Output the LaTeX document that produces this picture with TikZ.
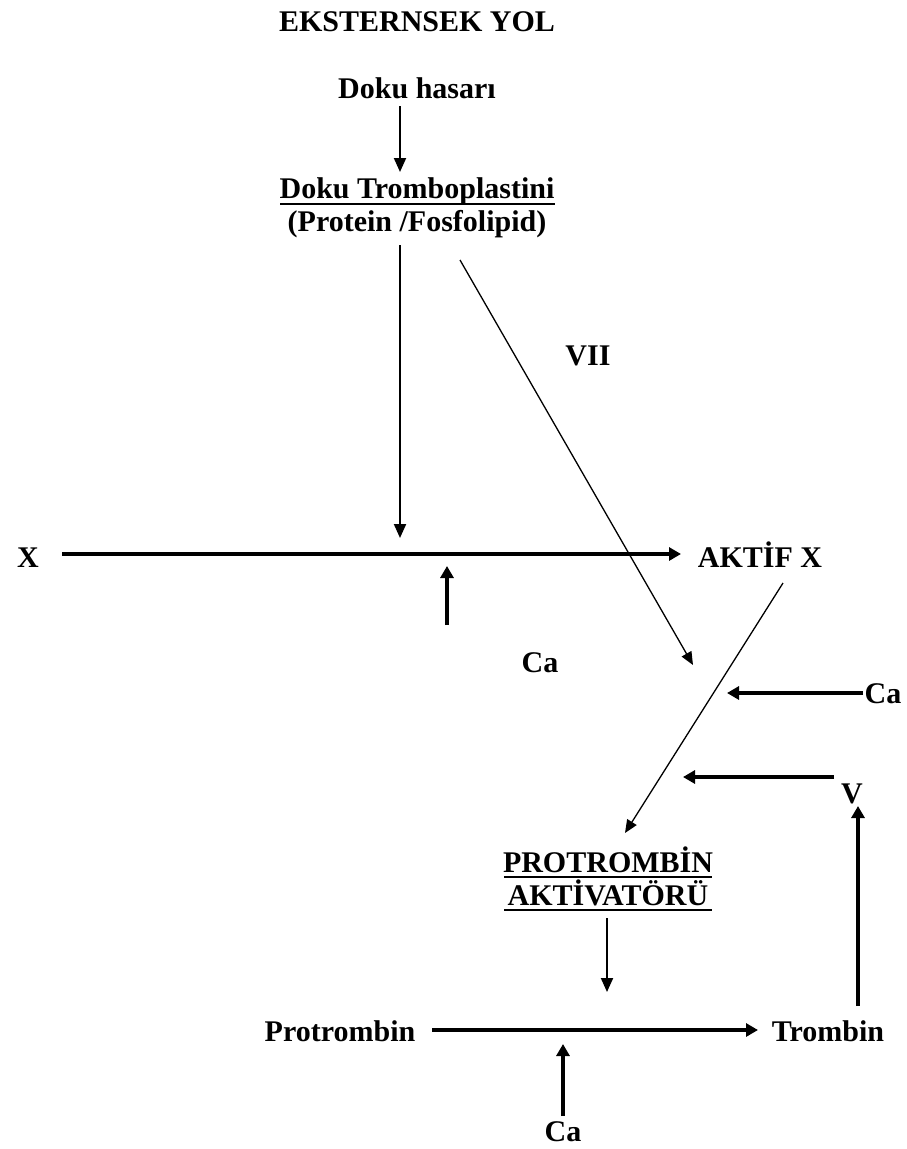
\documentclass[tikz,border=0pt]{standalone}
\usepackage{fontspec}
\setmainfont{Liberation Serif}
\usetikzlibrary{arrows.meta}
\begin{document}
\begin{tikzpicture}[x=1pt,y=-1pt,
  lbl/.style={font=\fontsize{30}{33}\selectfont\bfseries, inner sep=0pt, anchor=base},
  thin arr/.style={line width=1.3pt, -{Triangle[length=13pt,width=11pt]}},
  mid arr/.style={line width=2pt, -{Triangle[length=14pt,width=12pt]}},
  thick arr/.style={line width=4pt, -{Triangle[length=12pt,width=13pt]}},
  uline/.style={line width=1.5pt}]
\useasboundingbox (0,0) rectangle (906,1149);
% labels
\node[lbl] (title) at (417,31) {EKSTERNSEK YOL};
\node[lbl] (hasar) at (417,98) {Doku hasarı};
\node[lbl] (tromb) at (417,198) {Doku Tromboplastini};
\node[lbl] (prot) at (417,231) {(Protein /Fosfolipid)};
\node[lbl] (vii) at (588,365) {VII};
\node[lbl] (x) at (28,567) {X};
\node[lbl] (aktif) at (760,567) {AKTİF X};
\node[lbl] (ca1) at (540,672) {Ca};
\node[lbl] (ca2) at (883,703) {Ca};
\node[lbl] (v) at (852,803) {V};
\node[lbl] (pa1) at (608,872) {PROTROMBİN};
\node[lbl] (pa2) at (608,905) {AKTİVATÖRÜ};
\node[lbl] (protr) at (340,1041) {Protrombin};
\node[lbl] (trom) at (828,1041) {Trombin};
\node[lbl] (ca3) at (563,1141) {Ca};
% underlines
\draw[uline] (280,204) -- (555,204);
\draw[uline] (504,877) -- (712,877);
\draw[uline] (504,910) -- (712,910);
% coordinates
\coordinate (c1) at (400,106);
\coordinate (c2) at (400,172);
\coordinate (c3) at (400,245);
\coordinate (c4) at (400,538);
\coordinate (d1) at (460,260);
\coordinate (d2) at (693,665);
\coordinate (xs) at (62,554);
\coordinate (xe) at (681,554);
\coordinate (u1) at (447,625);
\coordinate (u2) at (447,566);
\coordinate (a1) at (783,583);
\coordinate (a2) at (625,833);
\coordinate (ca2s) at (863,693);
\coordinate (ca2e) at (727,693);
\coordinate (vs) at (834,777);
\coordinate (ve) at (683,777);
\coordinate (tu1) at (858,1006);
\coordinate (tu2) at (858,806);
\coordinate (p1) at (607,918);
\coordinate (p2) at (607,992);
\coordinate (ps) at (432,1030);
\coordinate (pe) at (758,1030);
\coordinate (cu1) at (563,1116);
\coordinate (cu2) at (563,1044);
% arrows
\draw[mid arr] (c1) -- (c2);
\draw[mid arr] (c3) -- (c4);
\draw[thin arr] (d1) -- (d2);
\draw[thick arr] (xs) -- (xe);
\draw[thick arr] (u1) -- (u2);
\draw[thin arr] (a1) -- (a2);
\draw[thick arr] (ca2s) -- (ca2e);
\draw[thick arr] (vs) -- (ve);
\draw[thick arr] (tu1) -- (tu2);
\draw[mid arr] (p1) -- (p2);
\draw[thick arr] (ps) -- (pe);
\draw[thick arr] (cu1) -- (cu2);
\end{tikzpicture}
\end{document}
